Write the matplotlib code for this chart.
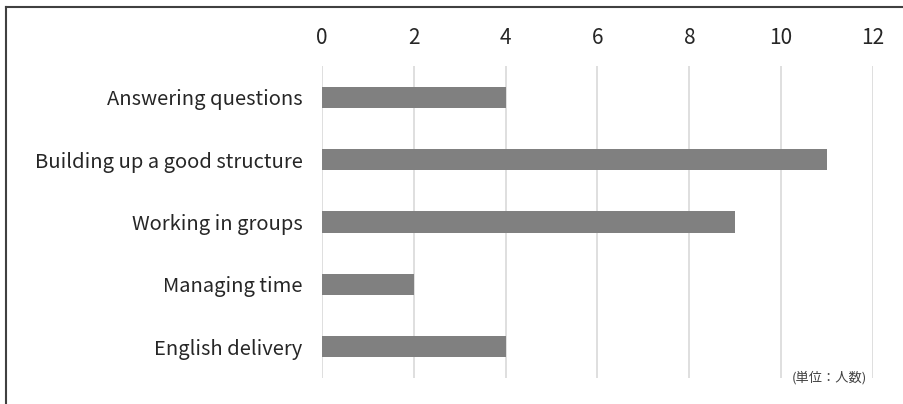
import matplotlib
matplotlib.use("Agg")
import matplotlib.pyplot as plt
from matplotlib.lines import Line2D

plt.rcParams["font.family"] = ["Noto Sans CJK JP", "DejaVu Sans"]

categories = [
    "Answering questions",
    "Building up a good structure",
    "Working in groups",
    "Managing time",
    "English delivery",
]
counts = [4, 11, 9, 2, 4]
x_ticks = [0, 2, 4, 6, 8, 10, 12]
unit_label = "(単位：人数)"

fig = plt.figure(figsize=(9.04, 4.04), dpi=100)
ax = fig.add_axes([0.3562, 0.0644, 0.6095, 0.7722])

ypos = list(range(len(categories)))
ax.barh(ypos, counts, height=0.34, color="#808080", zorder=3)

ax.set_xlim(0, 12)
ax.set_ylim(len(categories) - 0.5, -0.5)
ax.set_xticks(x_ticks)
ax.set_yticks(ypos)
ax.set_yticklabels(categories, fontsize=14.5, color="#262626")
ax.xaxis.tick_top()
ax.tick_params(axis="x", length=0, pad=12, labelsize=15, labelcolor="#262626")
ax.tick_params(axis="y", length=0, pad=14)
ax.grid(axis="x", color="#d9d9d9", lw=1.2, zorder=0)
for s in ax.spines.values():
    s.set_visible(False)

ax.text(0.99, 0.0, unit_label, transform=ax.transAxes, ha="right", va="center",
        fontsize=9.5, color="#404040")

# frame lines on the left and top edge of the picture
fig.add_artist(Line2D([0.0065, 0.0065], [0, 0.983], transform=fig.transFigure,
                      color="#404040", lw=1.5))
fig.add_artist(Line2D([0.0065, 1.0], [0.983, 0.983], transform=fig.transFigure,
                      color="#404040", lw=1.5))

fig.savefig("out.png", dpi=100)
